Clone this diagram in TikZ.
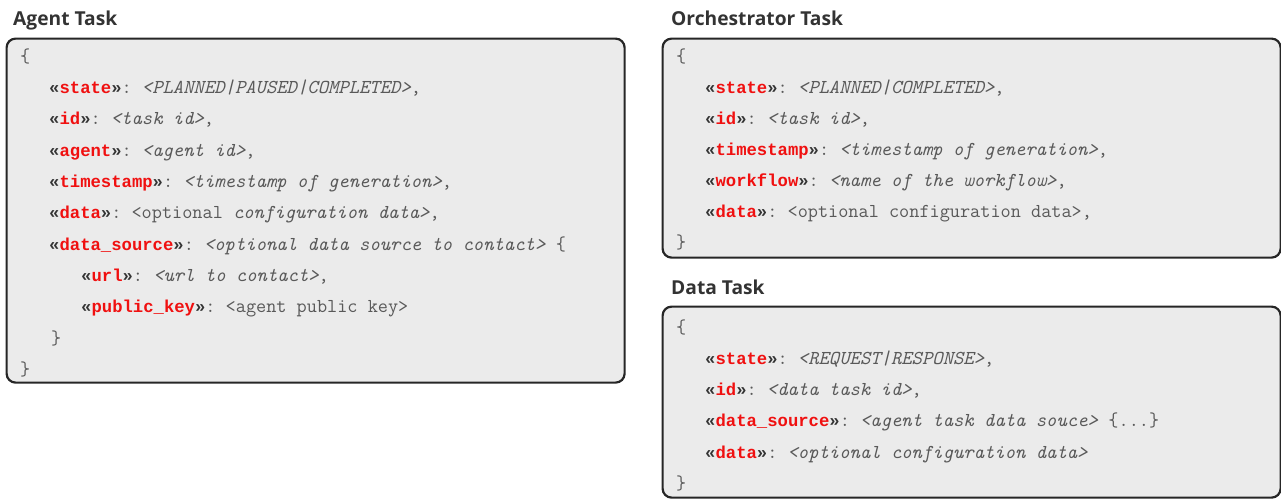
\documentclass[tikz,border=0pt]{standalone}
\usepackage{fontspec}
\newfontfamily\titlefont{Open Sans}
\newfontfamily\keyfont{Liberation Mono}
\definecolor{panelfill}{HTML}{EBEBEB}
\definecolor{panelline}{HTML}{262626}
\definecolor{valgrey}{HTML}{595959}
\definecolor{keyred}{HTML}{F01010}
\definecolor{guil}{HTML}{333333}
\definecolor{titlegrey}{HTML}{333333}
% value text: Latin Modern Mono; keys: bold mono in red between guillemets
\newcommand\valfont{\ttfamily\fontsize{19.7}{24}\selectfont}
\newcommand\kv[1]{{\keyfont\bfseries\fontsize{17.25}{24}\selectfont\color{guil}«\textcolor{keyred}{#1}»}:\ }
\newcommand\iv[1]{\textit{#1}}
\begin{document}
\begin{tikzpicture}[x=1pt,y=-1pt,
  panel/.style={draw=panelline, fill=panelfill, line width=2.2pt, rounded corners=9pt,
    anchor=north west, inner sep=0},
  heading/.style={anchor=base west, inner sep=0, text=titlegrey,
    font=\titlefont\bfseries\fontsize{19.2}{24}\selectfont},
  codeline/.style={anchor=base west, inner sep=0, text=valgrey, font=\valfont}]
\useasboundingbox (0,0) rectangle (1281,498);

% ---------- Agent Task ----------
\node[heading] (agenttitle) at (13,25) {Agent Task};
\node[panel, minimum width=618pt, minimum height=344pt] (agentbox) at (5.5,37.5) {};
\node[codeline] (a0) at (20,62) {\{};
\node[codeline] (a1) at (49,93) {\kv{state}\iv{<PLANNED|PAUSED|COMPLETED>},};
\node[codeline] (a2) at (49,124.5) {\kv{id}\iv{<task id>},};
\node[codeline] (a3) at (49,156) {\kv{agent}\iv{<agent id>},};
\node[codeline] (a4) at (49,187) {\kv{timestamp}\iv{<timestamp of generation>},};
\node[codeline] (a5) at (49,218.5) {\kv{data}<optional \iv{configuration data>},};
\node[codeline] (a6) at (49,250) {\kv{data\_source}\iv{<optional data source to contact>} \{};
\node[codeline] (a7) at (81,281) {\kv{url}\iv{<url to contact>},};
\node[codeline] (a8) at (81,312.5) {\kv{public\_key}<agent public key>};
\node[codeline] (a9) at (51,344) {\}};
\node[codeline] (a10) at (20,375) {\}};

% ---------- Orchestrator Task ----------
\node[heading] (orchtitle) at (671,25) {Orchestrator Task};
\node[panel, minimum width=618pt, minimum height=219pt] (orchbox) at (661.5,37.5) {};
\node[codeline] (o0) at (676,62) {\{};
\node[codeline] (o1) at (705,93) {\kv{state}\iv{<PLANNED|COMPLETED>},};
\node[codeline] (o2) at (705,124) {\kv{id}\iv{<task id>},};
\node[codeline] (o3) at (705,155) {\kv{timestamp}\iv{<timestamp of generation>},};
\node[codeline] (o4) at (705,186) {\kv{workflow}\iv{<name of the workflow>},};
\node[codeline] (o5) at (705,217) {\kv{data}<optional configuration data>,};
\node[codeline] (o6) at (676,248) {\}};

% ---------- Data Task ----------
\node[heading] (datatitle) at (671,294) {Data Task};
\node[panel, minimum width=618pt, minimum height=191pt] (databox) at (661.5,305.5) {};
\node[codeline] (d0) at (676,333) {\{};
\node[codeline] (d1) at (705,364) {\kv{state}\iv{<REQUEST|RESPONSE>},};
\node[codeline] (d2) at (705,395) {\kv{id}\iv{<data task id>},};
\node[codeline] (d3) at (705,426) {\kv{data\_source}\iv{<agent task data souce>} \{...\}};
\node[codeline] (d4) at (705,458) {\kv{data}\iv{<optional configuration data>}};
\node[codeline] (d5) at (676,489) {\}};
\end{tikzpicture}
\end{document}
